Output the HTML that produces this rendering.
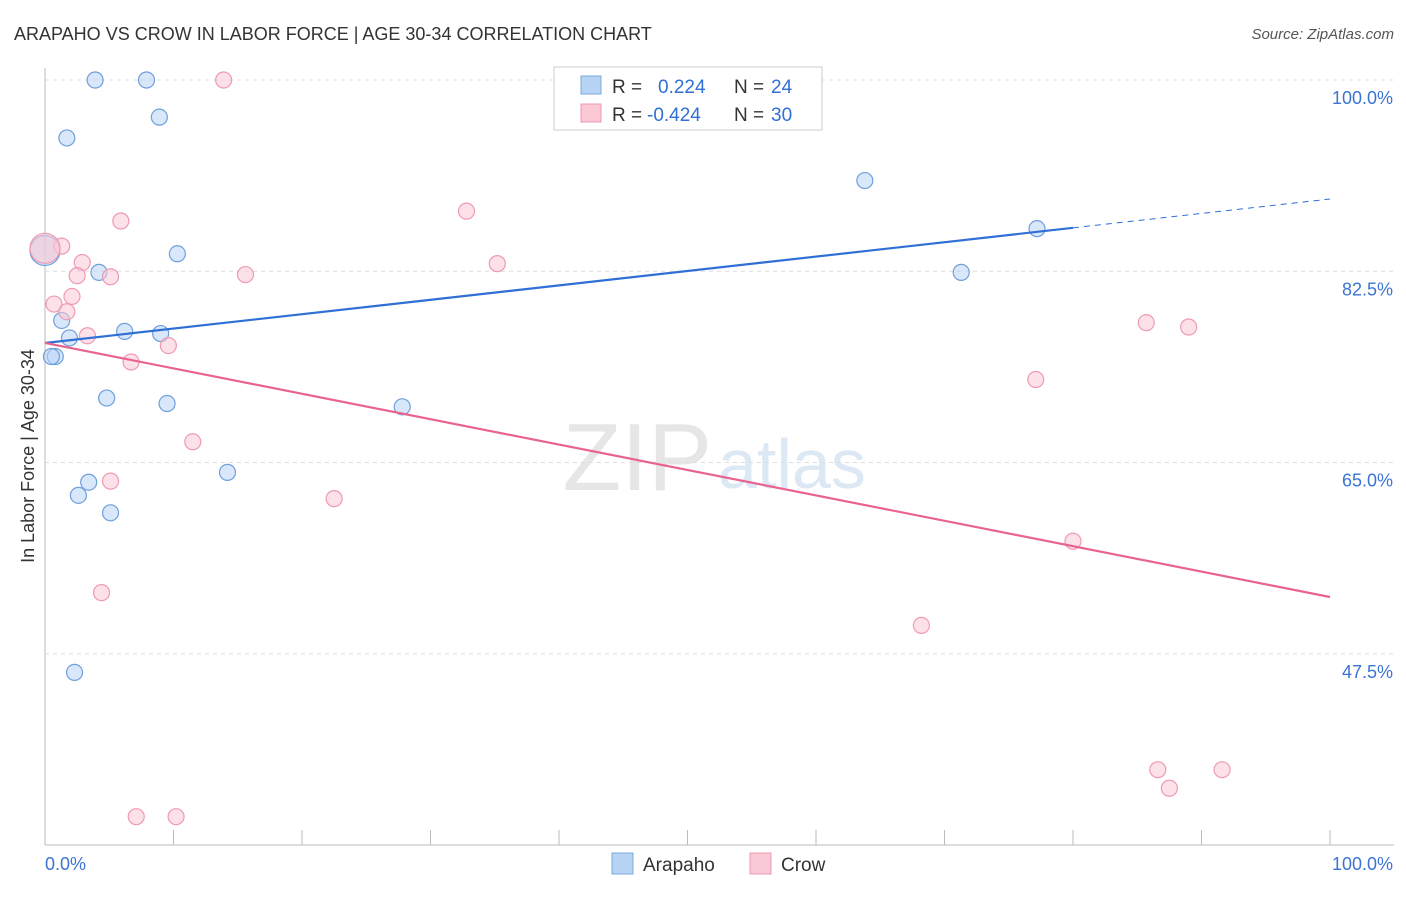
<!DOCTYPE html>
<html><head><meta charset="utf-8"><style>
body{margin:0;background:#fff;font-family:"Liberation Sans",sans-serif;}
svg text{font-family:"Liberation Sans",sans-serif;}
</style></head><body>
<svg id="c" width="1406" height="892">
<text x="14" y="40" font-size="18" fill="#333">ARAPAHO VS CROW IN LABOR FORCE | AGE 30-34 CORRELATION CHART</text>
<text x="1394" y="39" font-size="15" fill="#555" font-style="italic" text-anchor="end">Source: ZipAtlas.com</text>
<text x="712" y="490" font-size="96" fill="#e6e6e6" text-anchor="end" font-family="Liberation Serif">ZIP</text>
<text x="718" y="488" font-size="70" fill="#dde8f5">atlas</text>
<text x="34" y="456" font-size="18" fill="#333" text-anchor="middle" transform="rotate(-90 34 456)">In Labor Force | Age 30-34</text>
<g id="grid"></g><g id="marks"></g>
<g>
<rect x="554" y="67" width="268" height="63" fill="#fff" stroke="#ccc"/>
<rect x="581" y="76" width="20" height="18" fill="#b8d4f5" stroke="#7aa8e0"/>
<rect x="581" y="104" width="20" height="18" fill="#fbc8d6" stroke="#ee9ab2"/>
<text x="612" y="93" font-size="19" fill="#333">R =</text><text x="658" y="93" font-size="19" fill="#2f6fd6">0.224</text>
<text x="734" y="93" font-size="19" fill="#333">N =</text><text x="771" y="93" font-size="19" fill="#2f6fd6">24</text>
<text x="612" y="121" font-size="19" fill="#333">R =</text><text x="647" y="121" font-size="19" fill="#2f6fd6">-0.424</text>
<text x="734" y="121" font-size="19" fill="#333">N =</text><text x="771" y="121" font-size="19" fill="#2f6fd6">30</text>
</g>
<g>
<rect x="612" y="853" width="21" height="21" fill="#b8d4f5" stroke="#7aa8e0"/><text x="643" y="871" font-size="19" fill="#333">Arapaho</text>
<rect x="750" y="853" width="21" height="21" fill="#fbc8d6" stroke="#ee9ab2"/><text x="781" y="871" font-size="19" fill="#333">Crow</text>
</g>
</svg>
<script>
const yTicks=[100,82.5,65,47.5];
const yTickLabels=["100.0%","82.5%","65.0%","47.5%"];
const xTicks=[0,10,20,30,40,50,60,70,80,90,100];
const arapahoX=[3.9,7.9,1.7,8.9,63.8,77.2,10.3,4.2,71.3,1.3,6.2,1.9,9.0,0.8,0.5,4.8,9.5,27.8,14.2,3.4,2.6,5.1,2.3,0];
const arapahoY=[100,100,94.7,96.6,90.8,86.4,84.1,82.4,82.4,78.0,77.0,76.4,76.8,74.7,74.7,70.9,70.4,70.1,64.1,63.2,62.0,60.4,45.8,84.4];
const crowX=[13.9,5.9,32.8,1.3,2.9,35.2,2.5,5.1,15.6,2.1,0.7,1.7,3.3,9.6,6.7,85.7,89.0,77.1,11.5,5.1,22.5,80.0,4.4,68.2,86.6,91.6,87.5,7.1,10.2,0];
const crowY=[100,87.1,88.0,84.8,83.3,83.2,82.1,82.0,82.2,80.2,79.5,78.8,76.6,75.7,74.2,77.8,77.4,72.6,66.9,63.3,61.7,57.8,53.1,50.1,36.9,36.9,35.2,32.6,32.6,84.6];
const blueTrend=[75.94,89.11,80];
const pinkTrend=[75.94,52.7];
const X=v=>45+v*12.85, Y=v=>80+(100-v)*10.93;
const NS="http://www.w3.org/2000/svg";
function mk(p,t,a){const e=document.createElementNS(NS,t);for(const k in a)e.setAttribute(k,a[k]);p.appendChild(e);return e;}
const g=document.getElementById('grid'),m=document.getElementById('marks');
let ax=mk(g,'line',{x1:45,y1:68,x2:45,y2:845,stroke:'#bbb'});


let bx=mk(g,'line',{x1:45,y1:845,x2:1394,y2:845,stroke:'#bbb'});


yTicks.forEach((t,i)=>{
 const l=mk(g,'line',{x1:45,y1:Y(t),x2:1394,y2:Y(t),stroke:'#ddd','stroke-dasharray':'4,4'});
 
 
 const tx=mk(g,'text',{x:1393,y:Y(t)+24,'font-size':18,fill:'#3b74d4','text-anchor':'end'});tx.textContent=yTickLabels[i];
 
 
});
xTicks.forEach(t=>{
 const l=mk(g,'line',{x1:X(t),y1:830,x2:X(t),y2:845,stroke:'#bbb'});
 
 
});
let t0=mk(g,'text',{x:45,y:870,'font-size':18,fill:'#3b74d4'});t0.textContent='0.0%';


let t1=mk(g,'text',{x:1393,y:870,'font-size':18,fill:'#3b74d4','text-anchor':'end'});t1.textContent='100.0%';


function pts(xs,ys,fill,stroke,name,skipBig){xs.forEach((x,i)=>{
 const big=(x===0);
 if(big&&skipBig)return;
 const c=mk(m,'circle',{cx:X(x),cy:Y(ys[i]),r:big?15:8,fill:fill,'fill-opacity':big?0.6:0.55,stroke:stroke,'stroke-width':1.2});
 
 
});}
pts(arapahoX,arapahoY,'#b8d4f5','#6f9fdc','arapaho-point',false);
pts(crowX,crowY,'#fbc8d6','#ee9ab2','crow-point',false);
const by=x=>blueTrend[0]+(blueTrend[1]-blueTrend[0])*x/100;
let bl=mk(m,'line',{x1:X(0),y1:Y(by(0)),x2:X(blueTrend[2]),y2:Y(by(blueTrend[2])),stroke:'#2f6fd6','stroke-width':2.2});


let bd=mk(m,'line',{x1:X(blueTrend[2]),y1:Y(by(blueTrend[2])),x2:X(100),y2:Y(by(100)),stroke:'#2f6fd6','stroke-width':1,'stroke-dasharray':'6,5'});


let pl=mk(m,'line',{x1:X(0),y1:Y(pinkTrend[0]),x2:X(100),y2:Y(pinkTrend[1]),stroke:'#e8638f','stroke-width':2.2});


</script>
</body></html>
